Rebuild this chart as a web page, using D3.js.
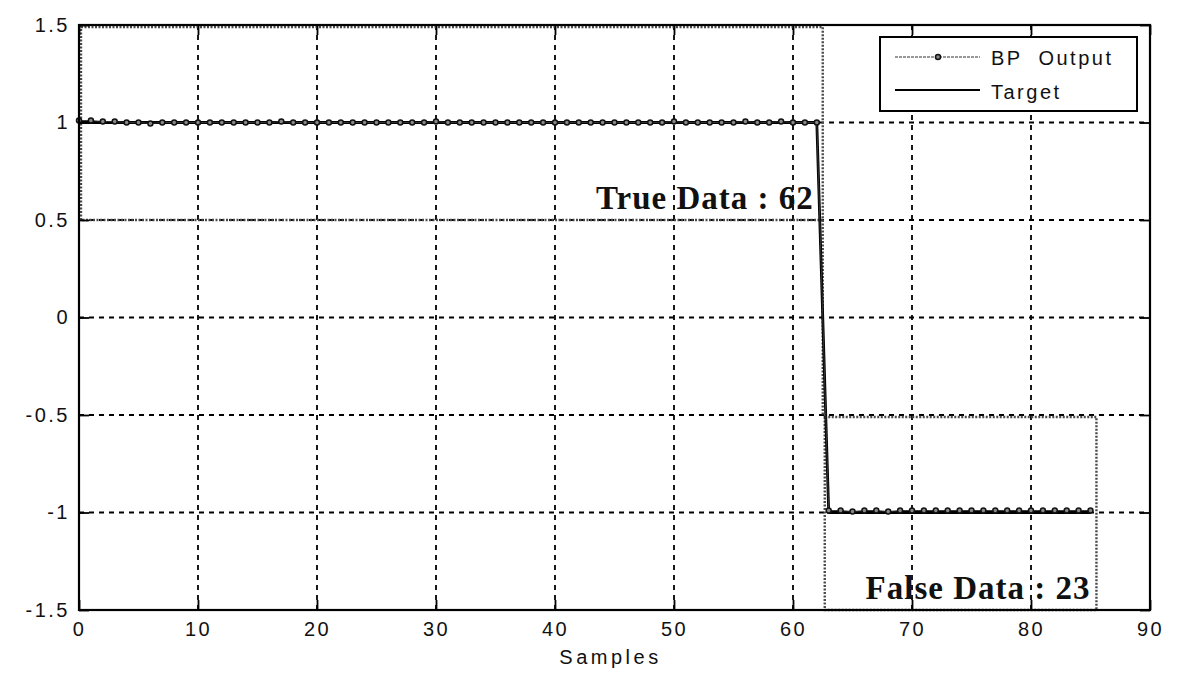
<!DOCTYPE html>
<html>
<head>
<meta charset="utf-8">
<script src="https://cdn.jsdelivr.net/npm/d3@7"></script>
<style>
  html, body { margin: 0; padding: 0; background: #fff; }
  svg { display: block; }
</style>
</head>
<body>
<svg id="chart" width="1180" height="676"></svg>
<script>
// Network outputs per sample: first group (true samples), second group (false samples)
const trueOutput = [
  1.01, 1.01, 1.005, 1.005, 1.0, 1.0, 0.995, 1.0, 1.0, 1.0,
  1.0, 1.0, 1.0, 1.0, 1.0, 1.0, 1.0, 1.005, 1.0, 1.0,
  1.0, 1.0, 1.0, 1.0, 1.0, 1.0, 1.0, 1.0, 1.0, 1.0,
  1.005, 1.0, 1.0, 1.0, 1.0, 1.0, 1.0, 1.0, 1.0, 1.0,
  1.0, 1.0, 1.0, 1.0, 1.0, 1.0, 1.0, 1.0, 1.0, 1.0,
  1.005, 1.0, 1.0, 1.0, 1.0, 1.0, 1.005, 1.0, 1.0, 1.005,
  1.0, 1.0, 1.0
];
const falseOutput = [
  -0.99, -0.99, -0.995, -0.99, -0.99, -0.995, -0.99, -0.99, -0.99, -0.99,
  -0.99, -0.99, -0.99, -0.99, -0.99, -0.99, -0.99, -0.99, -0.99, -0.99,
  -0.99, -0.99, -0.99
];
const trueTarget = 1;
const falseTarget = -1;

const xTicks = [0, 10, 20, 30, 40, 50, 60, 70, 80, 90];
const yTicks = [-1.5, -1, -0.5, 0, 0.5, 1, 1.5];
const yTickLabels = ["-1.5", "-1", "-0.5", "0", "0.5", "1", "1.5"];

const legendLabels = ["BP  Output", "Target"];
const xLabel = "Samples";
const trueNote = "True Data : 62";
const falseNote = "False Data : 23";

// Group regions: [x0, x1, y0, y1]
const trueRegion = [0, 62.5, 0.5, 1.5];
const falseRegion = [62.5, 85.5, -1.5, -0.5];

// Build the series
const output = trueOutput.concat(falseOutput).map((v, i) => ({ x: i, y: v }));
const target = trueOutput.map(() => trueTarget)
  .concat(falseOutput.map(() => falseTarget))
  .map((v, i) => ({ x: i, y: v }));

const svg = d3.select("#chart");
const plotL = 79, plotR = 1150, plotT = 25, plotB = 610;

const x = d3.scaleLinear().domain([0, 90]).range([plotL, plotR]);
const y = d3.scaleLinear().domain([-1.5, 1.5]).range([plotB, plotT]);

const axisFont = "'Liberation Sans', Arial, sans-serif";
const styleLabel = sel => sel
  .attr("font-family", axisFont).attr("font-size", 20)
  .attr("letter-spacing", 2.5).attr("fill", "#111");

// Grid
const grid = svg.append("g");
grid.selectAll("line.vx").data(xTicks.slice(1, -1)).join("line")
  .attr("x1", d => x(d)).attr("x2", d => x(d))
  .attr("y1", plotT).attr("y2", plotB)
  .attr("stroke", "#000").attr("stroke-width", 1.8)
  .attr("stroke-dasharray", "5,5");
grid.selectAll("line.hy").data(yTicks.slice(1, -1)).join("line")
  .attr("x1", plotL).attr("x2", plotR)
  .attr("y1", d => y(d)).attr("y2", d => y(d))
  .attr("stroke", "#000").attr("stroke-width", 1.8)
  .attr("stroke-dasharray", "5,5");

// Region outlines (chain of small dots)
const regionStyle = sel => sel
  .attr("fill", "none").attr("stroke", "#4a4a4a")
  .attr("stroke-width", 2.4).attr("stroke-dasharray", "2,1.5");
[trueRegion, falseRegion].forEach(r => {
  svg.append("rect")
    .attr("x", x(r[0]) + 2).attr("y", y(r[3]) + 2)
    .attr("width", x(r[1]) - x(r[0]) - 2).attr("height", y(r[2]) - y(r[3]) - 2)
    .call(regionStyle);
});
// divider between the two groups
svg.append("line")
  .attr("x1", x(trueRegion[1])).attr("x2", x(trueRegion[1]))
  .attr("y1", y(trueRegion[2])).attr("y2", y(falseRegion[3]))
  .call(regionStyle);

// Target line
const line = d3.line().x(d => x(d.x)).y(d => y(d.y));
svg.append("path").datum(target)
  .attr("d", line).attr("fill", "none")
  .attr("stroke", "#000").attr("stroke-width", 2.8);

// BP output line with markers
svg.append("path").datum(output)
  .attr("d", line).attr("fill", "none")
  .attr("stroke", "#333").attr("stroke-width", 1);
svg.append("g").selectAll("circle").data(output).join("circle")
  .attr("cx", d => x(d.x)).attr("cy", d => y(d.y)).attr("r", 2.5)
  .attr("fill", "#888").attr("stroke", "#111").attr("stroke-width", 1.5);

// Axes frame and inside ticks
const axisG = svg.append("g");
axisG.append("rect")
  .attr("x", plotL).attr("y", plotT).attr("width", plotR - plotL).attr("height", plotB - plotT)
  .attr("fill", "none").attr("stroke", "#000").attr("stroke-width", 2.2);

const tickLen = 10;
axisG.append("g").attr("transform", `translate(0,${plotB})`)
  .call(d3.axisBottom(x).tickValues(xTicks).tickSize(-tickLen).tickFormat(d3.format("d")).tickPadding(12))
  .call(g => g.select(".domain").remove())
  .call(g => g.selectAll("line").attr("stroke-width", 1.8))
  .call(g => g.selectAll("text").call(styleLabel));
axisG.append("g").attr("transform", `translate(0,${plotT})`)
  .call(d3.axisTop(x).tickValues(xTicks).tickSize(-tickLen).tickFormat(""))
  .call(g => g.select(".domain").remove())
  .call(g => g.selectAll("line").attr("stroke-width", 1.8));
axisG.append("g").attr("transform", `translate(${plotL},0)`)
  .call(d3.axisLeft(y).tickValues(yTicks).tickSize(-tickLen)
    .tickFormat((d, i) => yTickLabels[i]).tickPadding(9))
  .call(g => g.select(".domain").remove())
  .call(g => g.selectAll("line").attr("stroke-width", 1.8))
  .call(g => g.selectAll("text").call(styleLabel));
axisG.append("g").attr("transform", `translate(${plotR},0)`)
  .call(d3.axisRight(y).tickValues(yTicks).tickSize(-tickLen).tickFormat(""))
  .call(g => g.select(".domain").remove())
  .call(g => g.selectAll("line").attr("stroke-width", 1.8));

// X label
svg.append("text")
  .attr("x", (plotL + plotR) / 2 - 4).attr("y", 664)
  .attr("text-anchor", "middle")
  .call(styleLabel)
  .attr("letter-spacing", 3.5)
  .text(xLabel);

// Group notes
const noteFont = "'Liberation Serif', 'Times New Roman', serif";
svg.append("text")
  .attr("x", x(62) - 3).attr("y", 209)
  .attr("text-anchor", "end")
  .attr("font-family", noteFont).attr("font-weight", "bold").attr("font-size", 33)
  .attr("letter-spacing", 1)
  .attr("fill", "#111")
  .text(trueNote);
svg.append("text")
  .attr("x", x(85)).attr("y", 599)
  .attr("text-anchor", "end")
  .attr("font-family", noteFont).attr("font-weight", "bold").attr("font-size", 33)
  .attr("letter-spacing", 1)
  .attr("fill", "#111")
  .text(falseNote);

// Legend
const lg = svg.append("g");
lg.append("rect")
  .attr("x", 880).attr("y", 37).attr("width", 257).attr("height", 74)
  .attr("fill", "#fff").attr("stroke", "#000").attr("stroke-width", 2);
lg.append("line").attr("x1", 895).attr("x2", 980).attr("y1", 57).attr("y2", 57)
  .attr("stroke", "#333").attr("stroke-width", 1.2).attr("stroke-dasharray", "3,1");
lg.append("circle").attr("cx", 938).attr("cy", 57).attr("r", 2.5)
  .attr("fill", "#888").attr("stroke", "#111").attr("stroke-width", 1.5);
lg.append("line").attr("x1", 895).attr("x2", 980).attr("y1", 90).attr("y2", 90)
  .attr("stroke", "#000").attr("stroke-width", 2);
lg.selectAll("text").data(legendLabels).join("text")
  .attr("x", 991).attr("y", (d, i) => 65 + i * 34)
  .style("white-space", "pre")
  .call(styleLabel)
  .text(d => d);
</script>
</body>
</html>
